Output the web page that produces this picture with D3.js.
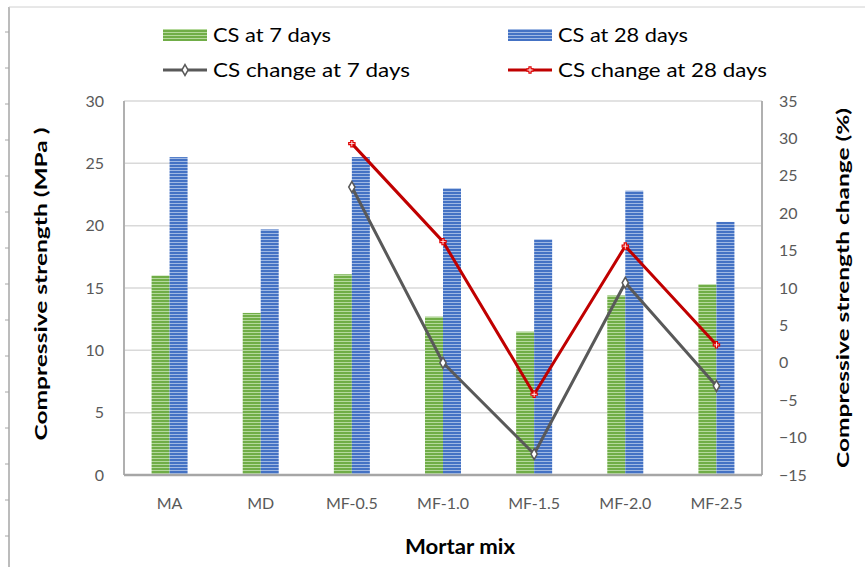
<!DOCTYPE html>
<html>
<head>
<meta charset="utf-8">
<script src="https://cdn.jsdelivr.net/npm/d3@7"></script>
<style>
  body { margin: 0; background: #ffffff; }
  svg { display: block; font-family: "Lato", "Liberation Sans", sans-serif; }
</style>
</head>
<body>
<svg id="chart" width="865" height="567"></svg>
<script>
// Compressive strength of each mortar mix (MPa)
const categories = ["MA", "MD", "MF-0.5", "MF-1.0", "MF-1.5", "MF-2.0", "MF-2.5"];
const cs7 = [16.0, 13.0, 16.1, 12.7, 11.5, 14.4, 15.3];
const cs28 = [25.5, 19.7, 25.5, 23.0, 18.9, 22.8, 20.3];

// Strength change of the fibre mixes (%)
const changeCategories = ["MF-0.5", "MF-1.0", "MF-1.5", "MF-2.0", "MF-2.5"];
const change7 = [23.5, 0.0, -12.2, 10.7, -3.1];
const change28 = [29.3, 16.2, -4.2, 15.6, 2.4];

const leftTicks = [0, 5, 10, 15, 20, 25, 30];
const rightTicks = [-15, -10, -5, 0, 5, 10, 15, 20, 25, 30, 35];

const seriesNames = ["CS at 7 days", "CS at 28 days", "CS change at 7 days", "CS change at 28 days"];

const svg = d3.select("#chart");
const plot = { left: 124, right: 762, top: 101, bottom: 475 };

const x = d3.scaleBand().domain(categories).range([plot.left, plot.right]);
const yL = d3.scaleLinear().domain([0, 30]).range([plot.bottom, plot.top]);
const yR = d3.scaleLinear().domain([-15, 35]).range([plot.bottom, plot.top]);
const barW = 18;

// Striped fills for the two bar series
const defs = svg.append("defs");
function stripes(id, base, light) {
  const p = defs.append("pattern").attr("id", id)
    .attr("patternUnits", "userSpaceOnUse").attr("width", 6).attr("height", 3);
  p.append("rect").attr("width", 6).attr("height", 3).attr("fill", base);
  p.append("rect").attr("y", 2).attr("width", 6).attr("height", 1).attr("fill", light);
}
stripes("greenStripes", "#70ad47", "#b5d99c");
stripes("blueStripes", "#4472c4", "#9fb8e3");

// Outer border strip on the left edge
svg.append("line").attr("x1", 9).attr("x2", 9).attr("y1", 7).attr("y2", 567)
  .attr("stroke", "#a6a6a6").attr("stroke-width", 1.5);
svg.append("line").attr("x1", 9).attr("x2", 865).attr("y1", 7).attr("y2", 7)
  .attr("stroke", "#d0d0d0").attr("stroke-width", 1);
svg.append("g").selectAll("line").data(d3.range(32, 567, 36)).join("line")
  .attr("x1", 5).attr("x2", 9).attr("y1", d => d).attr("y2", d => d)
  .attr("stroke", "#a6a6a6").attr("stroke-width", 1);

// Gridlines
svg.append("g").selectAll("line").data(leftTicks.filter(t => t > 0)).join("line")
  .attr("x1", plot.left).attr("x2", plot.right)
  .attr("y1", d => yL(d)).attr("y2", d => yL(d))
  .attr("stroke", "#d9d9d9").attr("stroke-width", 1.5);

// Plot frame
svg.append("line").attr("x1", plot.left).attr("x2", plot.left).attr("y1", plot.top).attr("y2", plot.bottom)
  .attr("stroke", "#b0b0b0").attr("stroke-width", 2);
svg.append("line").attr("x1", plot.right).attr("x2", plot.right).attr("y1", plot.top).attr("y2", plot.bottom)
  .attr("stroke", "#b0b0b0").attr("stroke-width", 2);

// Bars
const bars = svg.append("g");
bars.selectAll("rect.cs7").data(categories).join("rect").attr("class", "cs7")
  .attr("x", (d) => x(d) + x.bandwidth() / 2 - barW)
  .attr("width", barW)
  .attr("y", (d, i) => yL(cs7[i]))
  .attr("height", (d, i) => yL(0) - yL(cs7[i]))
  .attr("fill", "url(#greenStripes)");
bars.selectAll("rect.cs28").data(categories).join("rect").attr("class", "cs28")
  .attr("x", (d) => x(d) + x.bandwidth() / 2)
  .attr("width", barW)
  .attr("y", (d, i) => yL(cs28[i]))
  .attr("height", (d, i) => yL(0) - yL(cs28[i]))
  .attr("fill", "url(#blueStripes)");

// Bottom axis line
svg.append("line").attr("x1", plot.left).attr("x2", plot.right).attr("y1", plot.bottom).attr("y2", plot.bottom)
  .attr("stroke", "#a6a6a6").attr("stroke-width", 2.5);

// Change lines
const cx = d => x(d) + x.bandwidth() / 2;
const line7 = d3.line().x(d => cx(d[0])).y(d => yR(d[1]));
const pts7 = changeCategories.map((c, i) => [c, change7[i]]);
const pts28 = changeCategories.map((c, i) => [c, change28[i]]);

svg.append("path").datum(pts7).attr("d", line7)
  .attr("fill", "none").attr("stroke", "#595959").attr("stroke-width", 3).attr("stroke-linejoin", "round");
svg.append("path").datum(pts28).attr("d", line7)
  .attr("fill", "none").attr("stroke", "#c00000").attr("stroke-width", 3).attr("stroke-linejoin", "round");

const diamond = d3.symbol().type(d3.symbolDiamond).size(34);
const cross = d3.symbol().type(d3.symbolCross).size(22);
svg.append("g").selectAll("path").data(pts7).join("path")
  .attr("d", diamond)
  .attr("transform", d => `translate(${cx(d[0])},${yR(d[1])})`)
  .attr("fill", "#ffffff").attr("stroke", "#595959").attr("stroke-width", 1.5);
svg.append("g").selectAll("path").data(pts28).join("path")
  .attr("d", cross)
  .attr("transform", d => `translate(${cx(d[0])},${yR(d[1])})`)
  .attr("fill", "#ffffff").attr("stroke", "#e00000").attr("stroke-width", 1.2);

// Axes
const tickFont = g => g.selectAll("text").attr("fill", "#595959").attr("font-size", 16);
svg.append("g").attr("transform", `translate(${plot.left},0)`)
  .call(d3.axisLeft(yL).tickValues(leftTicks).tickSize(0).tickPadding(20))
  .call(g => g.select(".domain").remove())
  .call(g => g.attr("font-family", null))
  .call(tickFont);
svg.append("g").attr("transform", `translate(${plot.right},0)`)
  .call(d3.axisRight(yR).tickValues(rightTicks).tickSize(0).tickPadding(17))
  .call(g => g.select(".domain").remove())
  .call(g => g.attr("font-family", null))
  .call(tickFont);
svg.append("g").attr("transform", `translate(0,${plot.bottom})`)
  .call(d3.axisBottom(x).tickSize(0).tickPadding(23))
  .call(g => g.select(".domain").remove())
  .call(g => g.attr("font-family", null))
  .call(tickFont);

// Axis titles
svg.append("text").attr("transform", "translate(47,284) rotate(-90)")
  .attr("text-anchor", "middle").attr("font-size", 17).attr("font-weight", "bold")
  .attr("textLength", 313).attr("lengthAdjust", "spacingAndGlyphs")
  .text("Compressive strength (MPa )");
svg.append("text").attr("transform", "translate(849,288) rotate(-90)")
  .attr("text-anchor", "middle").attr("font-size", 17).attr("font-weight", "bold")
  .attr("textLength", 360).attr("lengthAdjust", "spacingAndGlyphs")
  .text("Compressive strength change (%)");
svg.append("text").attr("x", 460).attr("y", 554)
  .attr("text-anchor", "middle").attr("font-size", 20).attr("font-weight", "bold")
  .attr("textLength", 110).attr("lengthAdjust", "spacingAndGlyphs")
  .text("Mortar mix");

// Legend
const legend = svg.append("g").attr("font-size", 19).attr("fill", "#000");
const legendItems = [
  { name: seriesNames[0], x: 163, y: 35, kind: "bar", fill: "url(#greenStripes)", w: 118 },
  { name: seriesNames[1], x: 508, y: 35, kind: "bar", fill: "url(#blueStripes)", w: 130 },
  { name: seriesNames[2], x: 163, y: 70, kind: "line7", w: 197 },
  { name: seriesNames[3], x: 508, y: 70, kind: "line28", w: 209 }
];
legendItems.forEach(it => {
  const g = legend.append("g");
  if (it.kind === "bar") {
    g.append("rect").attr("x", it.x).attr("y", it.y - 6).attr("width", 44).attr("height", 12).attr("fill", it.fill);
  } else if (it.kind === "line7") {
    g.append("line").attr("x1", it.x).attr("x2", it.x + 44).attr("y1", it.y).attr("y2", it.y)
      .attr("stroke", "#595959").attr("stroke-width", 3);
    g.append("path").attr("d", diamond).attr("transform", `translate(${it.x + 22},${it.y})`)
      .attr("fill", "#fff").attr("stroke", "#595959").attr("stroke-width", 1.5);
  } else {
    g.append("line").attr("x1", it.x).attr("x2", it.x + 44).attr("y1", it.y).attr("y2", it.y)
      .attr("stroke", "#c00000").attr("stroke-width", 3);
    g.append("path").attr("d", cross).attr("transform", `translate(${it.x + 22},${it.y})`)
      .attr("fill", "#fff").attr("stroke", "#e00000").attr("stroke-width", 1.2);
  }
  g.append("text").attr("x", it.x + 50).attr("y", it.y).attr("dy", "0.35em")
    .attr("textLength", it.w).attr("lengthAdjust", "spacingAndGlyphs")
    .text(it.name);
});
</script>
</body>
</html>
